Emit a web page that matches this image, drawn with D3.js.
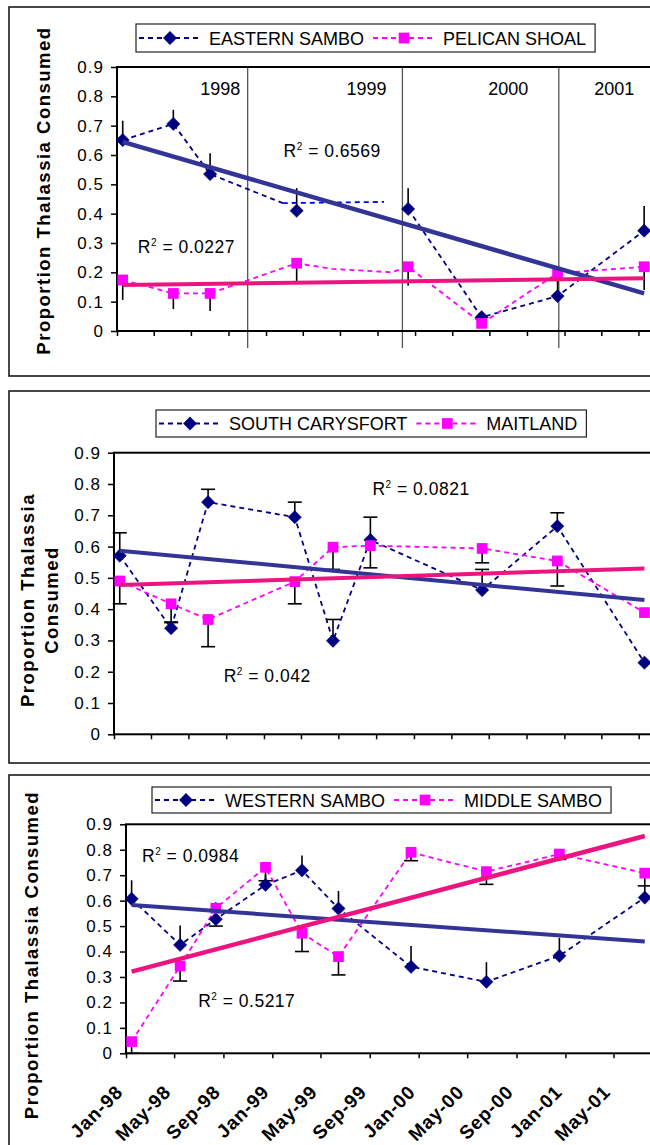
<!DOCTYPE html>
<html><head><meta charset="utf-8">
<script src="https://cdn.jsdelivr.net/npm/d3@7"></script>
<style>
body{margin:0;background:#fff}
svg{display:block}
text{font-family:Arial,"Liberation Sans",sans-serif;fill:#000}
</style>
</head><body>
<svg id="c" width="650" height="1145"></svg>
<script>
// ---------- shared ----------
const yTicks = [0, 0.1, 0.2, 0.3, 0.4, 0.5, 0.6, 0.7, 0.8, 0.9];
const yTickLabels = ["0", "0.1", "0.2", "0.3", "0.4", "0.5", "0.6", "0.7", "0.8", "0.9"];
const yAxisTitle = "Proportion Thalassia Consumed";

// ---------- panel 1: Eastern Sambo / Pelican Shoal ----------
const p1Names = ["EASTERN SAMBO", "PELICAN SHOAL"];
const p1Dates = ["1998-01-15", "1998-05-19", "1998-08-17", "1999-03-17", "1999-12-15", "2000-06-12", "2000-12-15", "2001-07-15"];
const easternSambo = [0.651, 0.706, 0.535, 0.41, 0.416, 0.047, 0.119, 0.342];
const easternSamboErr = [0.066, 0.048, 0.071, 0.077, 0.071, 0, 0, 0.084];
const pelicanShoal = [0.174, 0.128, 0.128, 0.231, 0.219, 0.026, 0.197, 0.219];
const pelicanShoalErr = [0.068, 0.053, 0.06, 0.063, 0.065, 0, 0.08, 0.079];
// extra drawn line pieces seen in the original
const esStrayDates = ["1999-02-11", "1999-10-17"];
const esStrayValues = [0.436, 0.44];
const psBendDates = ["1999-06-12", "1999-11-04"];
const psBendValues = [0.212, 0.2];
const p1TrendES = [0.645, 0.128];
const p1TrendPS = [0.157, 0.18];
const p1R2Text = ["0.6569", "0.0227"];
const p1R2Dates = ["1999-02-13", "1998-02-21"];
const p1R2Values = [0.592, 0.265];
const p1Years = ["1998", "1999", "2000", "2001"];
const p1YearLabelDates = ["1998-09-11", "1999-09-04", "2000-08-16", "2001-05-03"];
const p1YearLineDates = ["1998-11-17", "1999-12-01", "2000-12-18"];

// ---------- panel 2: South Carysfort / Maitland ----------
const p2Names = ["SOUTH CARYSFORT", "MAITLAND"];
const p2Dates = ["1998-01-15", "1998-05-20", "1998-08-18", "1999-03-17", "1999-06-18", "1999-09-17", "2000-06-15", "2000-12-15", "2001-07-15"];
const southCarysfort = [0.571, 0.339, 0.742, 0.694, 0.299, 0.621, 0.461, 0.665, 0.229];
const southCarysfortErr = [0.073, 0.02, 0.041, 0.048, 0.068, 0.073, 0.066, 0.043, 0];
const maitland = [0.49, 0.417, 0.367, 0.488, 0.598, 0.603, 0.594, 0.554, 0.389];
const maitlandErr = [0.073, 0.06, 0.087, 0.071, 0.071, 0.071, 0.046, 0.08, 0];
const p2TrendSC = [0.587, 0.429];
const p2TrendMT = [0.477, 0.53];
const p2R2Text = ["0.0821", "0.042"];
const p2R2Dates = ["1999-09-22", "1998-09-25"];
const p2R2Values = [0.765, 0.167];

// ---------- panel 3: Western Sambo / Middle Sambo ----------
const p3Names = ["WESTERN SAMBO", "MIDDLE SAMBO"];
const p3Dates = ["1998-01-15", "1998-05-16", "1998-08-13", "1998-12-15", "1999-03-16", "1999-06-15", "1999-12-13", "2000-06-18", "2000-12-17", "2001-07-18"];
const westernSambo = [0.607, 0.426, 0.527, 0.662, 0.719, 0.569, 0.34, 0.281, 0.383, 0.612];
const westernSamboErr = [0.073, 0.076, 0.067, 0.04, 0.058, 0.069, 0.082, 0.077, 0.071, 0.05];
const middleSambo = [0.046, 0.343, 0.57, 0.731, 0.472, 0.38, 0.79, 0.714, 0.783, 0.708];
const middleSamboErr = [0.05, 0.059, 0.07, 0.053, 0.072, 0.072, 0.033, 0.05, 0.021, 0.05];
const p3TrendWS = [0.583, 0.439];
const p3TrendMS = [0.321, 0.854];
const p3R2Text = ["0.0984", "0.5217"];
const p3R2Dates = ["1998-02-10", "1998-06-30"];
const p3R2Values = [0.753, 0.183];
const p3XTickLabels = ["Jan-98", "May-98", "Sep-98", "Jan-99", "May-99", "Sep-99", "Jan-00", "May-00", "Sep-00", "Jan-01", "May-01"];

// ---------- drawing ----------
const parse = d3.timeParse("%Y-%m-%d");
const svg = d3.select("#c");
const NAVY = "#000080", PINK = "#FF00FF", TNAVY = "#343497", TPINK = "#EE1480";

function marker(g, kind, cx, cy, color) {
  if (kind === "diamond") {
    g.append("path").attr("d", d3.symbol(d3.symbolSquare, 88)())
      .attr("transform", `translate(${cx},${cy}) rotate(45)`).attr("fill", color)
      .attr("stroke", color).attr("stroke-width", 0.5);
  } else {
    g.append("path").attr("d", d3.symbol(d3.symbolSquare, 115)())
      .attr("transform", `translate(${cx},${cy})`).attr("fill", color);
  }
}

function drawPanel(c) {
  const g = svg.append("g");
  g.append("rect").attr("x", c.frame[0]).attr("y", c.frame[1]).attr("width", 720).attr("height", c.frame[2])
    .attr("fill", "none").attr("stroke", "#1a1a1a").attr("stroke-width", 1.6);

  const x = d3.scaleTime().domain(c.xDomain.map(parse)).range([c.left, c.right]);
  const y = d3.scaleLinear().domain([0, 0.9]).range([c.bottom, c.top]);

  // year separator lines
  if (c.yearLines) {
    c.yearLines.forEach(d => {
      g.append("line").attr("x1", x(parse(d))).attr("x2", x(parse(d)))
        .attr("y1", c.top).attr("y2", c.bottom + 17).attr("stroke", "#555").attr("stroke-width", 1.3);
    });
  }

  // plot border
  g.append("rect").attr("x", c.left).attr("y", c.top).attr("width", c.right - c.left).attr("height", c.bottom - c.top)
    .attr("fill", "none").attr("stroke", "#000").attr("stroke-width", 2);

  // y axis
  const ya = g.append("g").attr("transform", `translate(${c.left},0)`)
    .call(d3.axisLeft(y).tickValues(yTicks).tickFormat((d, i) => yTickLabels[i]).tickSize(6).tickPadding(7));
  ya.select(".domain").remove();
  ya.selectAll("line").attr("stroke", "#000").attr("stroke-width", 1.5);
  ya.selectAll("text").attr("font-size", 17).attr("letter-spacing", 1)
    .attr("font-family", "Arial, 'Liberation Sans', sans-serif").attr("fill", "#000");

  // x axis
  const tickDates = d3.timeMonth.every(c.tickMonths).range(parse(c.xDomain[0]), parse(c.tickEnd));
  const xa = g.append("g").attr("transform", `translate(0,${c.bottom})`)
    .call(d3.axisBottom(x).tickValues(tickDates).tickFormat("").tickSize(5));
  xa.select(".domain").remove();
  xa.selectAll("line").attr("stroke", "#000").attr("stroke-width", 1.5);
  if (c.xLabels) {
    tickDates.forEach((d, i) => {
      g.append("text").attr("transform", `translate(${x(d) - 2},${c.bottom + 40}) rotate(-45)`)
        .attr("text-anchor", "end").attr("font-size", 19).attr("font-weight", "bold").attr("letter-spacing", 0.8)
        .text(c.xLabels[i]);
    });
  }

  // y title
  c.yTitleLines.forEach((t, i) => {
    g.append("text").attr("transform", `translate(${c.yTitleX[i]},${c.yTitleY}) rotate(-90)`)
      .attr("text-anchor", "middle").attr("font-size", 18.5).attr("font-weight", "bold").attr("letter-spacing", 1.5)
      .text(t);
  });

  // year labels
  if (c.yearLabels) {
    c.yearLabels.forEach((t, i) => {
      g.append("text").attr("x", x(parse(c.yearLabelDates[i]))).attr("y", y(0.805))
        .attr("text-anchor", "middle").attr("font-size", 18).text(t);
    });
  }

  // series
  c.series.forEach(s => {
    const pts = s.dates.map((d, i) => [parse(d), s.values[i]]);
    const line = d3.line().x(d => x(d[0])).y(d => y(d[1]));
    (s.paths || [pts]).forEach(p => {
      g.append("path").attr("d", line(p.pts || p)).attr("fill", "none")
        .attr("stroke", p.color || s.color).attr("stroke-width", 1.8).attr("stroke-dasharray", "5,4");
    });
    s._pts = pts;
  });
  // error bars
  c.series.forEach(s => {
    s._pts.forEach((p, i) => {
      const e = s.err[i];
      if (!e) return;
      const v2 = Math.max(0, p[1] + s.errDir * e);
      const px = x(p[0]);
      g.append("line").attr("x1", px).attr("x2", px).attr("y1", y(p[1])).attr("y2", y(v2))
        .attr("stroke", "#000").attr("stroke-width", 1.6);
      if (s.caps) {
        g.append("line").attr("x1", px - 7).attr("x2", px + 7).attr("y1", y(v2)).attr("y2", y(v2))
          .attr("stroke", "#000").attr("stroke-width", 1.6);
      }
    });
  });
  // markers
  c.series.forEach(s => {
    s._pts.forEach(p => marker(g, s.marker, x(p[0]), y(p[1]), s.color));
  });
  // trend lines
  c.series.forEach(s => {
    const d0 = s._pts[0][0], d1 = s._pts[s._pts.length - 1][0];
    g.append("line").attr("x1", x(d0)).attr("y1", y(s.trend[0])).attr("x2", x(d1)).attr("y2", y(s.trend[1]))
      .attr("stroke", s.trendColor).attr("stroke-width", s.trendWidth);
  });

  // R^2 labels
  c.r2.text.forEach((t, i) => {
    const tx = g.append("text").attr("x", x(parse(c.r2.dates[i]))).attr("y", y(c.r2.values[i]))
      .attr("font-size", 17.5).attr("letter-spacing", 0.5);
    tx.append("tspan").text("R");
    tx.append("tspan").attr("font-size", 10).attr("dy", -7).text("2");
    tx.append("tspan").attr("dy", 7).text(" = " + t);
  });

  // legend
  const L = c.legend;
  const lg = g.append("g");
  const box = lg.append("rect").attr("x", L.left).attr("y", L.top).attr("height", L.h)
    .attr("fill", "#fff").attr("stroke", "#222").attr("stroke-width", 1.2);
  let cur = L.left;
  const cy = L.top + L.h / 2;
  c.series.forEach(s => {
    lg.append("line").attr("x1", cur + 3).attr("x2", cur + 65).attr("y1", cy).attr("y2", cy)
      .attr("stroke", s.color).attr("stroke-width", 1.8).attr("stroke-dasharray", "5,4");
    marker(lg, s.marker, cur + 34, cy, s.color);
    const t = lg.append("text").attr("x", cur + 73).attr("y", cy + 6.5).attr("font-size", 18).text(s.name);
    cur = cur + 73 + t.node().getComputedTextLength();
    cur += 6;
  });
  box.attr("width", cur + 3 - L.left);
}

// panel 1
drawPanel({
  frame: [9, 7, 369],
  left: 117, right: 676, top: 67, bottom: 331,
  xDomain: ["1998-01-01", "2001-10-01"], tickMonths: 3, tickEnd: "2001-09-30",
  yTitleLines: [yAxisTitle], yTitleX: [50], yTitleY: 190.5,
  yearLines: p1YearLineDates, yearLabels: p1Years, yearLabelDates: p1YearLabelDates,
  r2: { text: p1R2Text, dates: p1R2Dates, values: p1R2Values },
  legend: { left: 136, top: 24, h: 28 },
  series: [
    { name: p1Names[0], dates: p1Dates, values: easternSambo, err: easternSamboErr, errDir: 1, caps: false,
      marker: "diamond", color: NAVY, trend: p1TrendES, trendColor: TNAVY, trendWidth: 4.5,
      paths: [
        { pts: p1Dates.slice(0, 3).map((d, i) => [parse(d), easternSambo[i]]).concat([[parse(esStrayDates[0]), esStrayValues[0]]]) },
        { pts: esStrayDates.map((d, i) => [parse(d), esStrayValues[i]]), color: "#0000EE" },
        { pts: p1Dates.slice(4).map((d, i) => [parse(d), easternSambo[i + 4]]) }
      ] },
    { name: p1Names[1], dates: p1Dates, values: pelicanShoal, err: pelicanShoalErr, errDir: -1, caps: false,
      marker: "square", color: PINK, trend: p1TrendPS, trendColor: TPINK, trendWidth: 4,
      paths: [
        { pts: p1Dates.slice(0, 4).map((d, i) => [parse(d), pelicanShoal[i]])
            .concat(psBendDates.map((d, i) => [parse(d), psBendValues[i]]))
            .concat(p1Dates.slice(4).map((d, i) => [parse(d), pelicanShoal[i + 4]])) }
      ] }
  ]
});

// panel 2
drawPanel({
  frame: [9, 391, 372],
  left: 114, right: 676.5, top: 452.7, bottom: 734.3,
  xDomain: ["1998-01-01", "2001-10-01"], tickMonths: 3, tickEnd: "2001-09-30",
  yTitleLines: ["Proportion Thalassia", "Consumed"], yTitleX: [34, 58], yTitleY: 600,
  r2: { text: p2R2Text, dates: p2R2Dates, values: p2R2Values },
  legend: { left: 156, top: 410, h: 27 },
  series: [
    { name: p2Names[0], dates: p2Dates, values: southCarysfort, err: southCarysfortErr, errDir: 1, caps: true,
      marker: "diamond", color: NAVY, trend: p2TrendSC, trendColor: TNAVY, trendWidth: 4 },
    { name: p2Names[1], dates: p2Dates, values: maitland, err: maitlandErr, errDir: -1, caps: true,
      marker: "square", color: PINK, trend: p2TrendMT, trendColor: TPINK, trendWidth: 4 }
  ]
});

// panel 3
drawPanel({
  frame: [9, 775, 400],
  left: 126, right: 656, top: 824.3, bottom: 1053.3,
  xDomain: ["1998-01-01", "2001-08-15"], tickMonths: 4, tickEnd: "2001-08-01",
  xLabels: p3XTickLabels,
  yTitleLines: [yAxisTitle], yTitleX: [38], yTitleY: 955,
  r2: { text: p3R2Text, dates: p3R2Dates, values: p3R2Values },
  legend: { left: 152, top: 787, h: 26 },
  series: [
    { name: p3Names[0], dates: p3Dates, values: westernSambo, err: westernSamboErr, errDir: 1, caps: false,
      marker: "diamond", color: NAVY, trend: p3TrendWS, trendColor: TNAVY, trendWidth: 4 },
    { name: p3Names[1], dates: p3Dates, values: middleSambo, err: middleSamboErr, errDir: -1, caps: true,
      marker: "square", color: PINK, trend: p3TrendMS, trendColor: TPINK, trendWidth: 4.5 }
  ]
});
</script>
</body></html>
